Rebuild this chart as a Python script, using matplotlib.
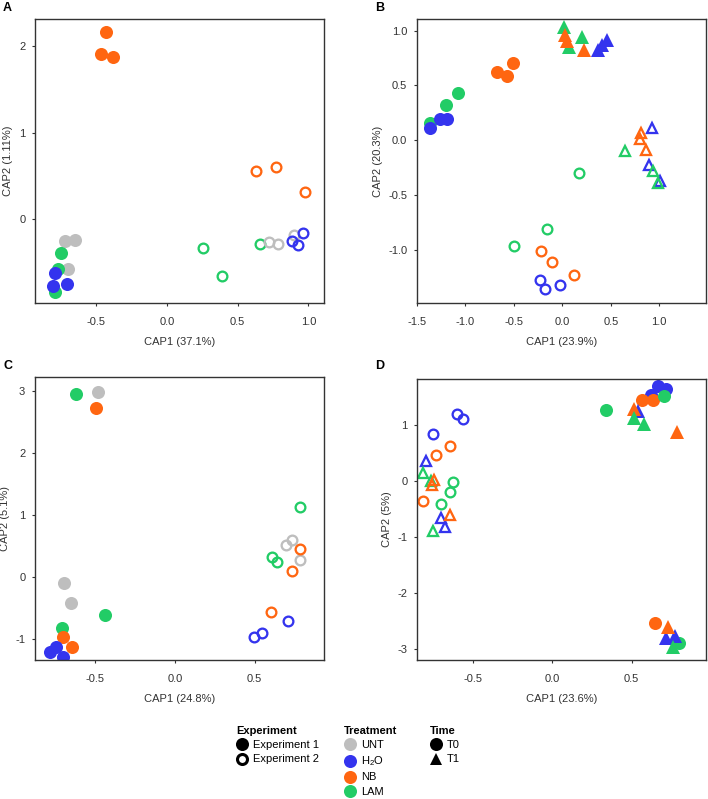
import matplotlib
matplotlib.use('Agg')
import matplotlib.pyplot as plt
from matplotlib.lines import Line2D

plt.rcParams['font.family'] = ['Liberation Sans', 'DejaVu Sans']
plt.rcParams['mathtext.fontset'] = 'custom'
plt.rcParams['mathtext.rm'] = 'Liberation Sans'
plt.rcParams['mathtext.it'] = 'Liberation Sans:italic'

COLORS = {'UNT': '#BEBEBE', 'H2O': '#3434EE', 'NB': '#FF6611', 'LAM': '#22CC66'}

# ---- panel A (no time factor) ----
A_x = [-0.43, -0.467, -0.377, 0.632, 0.773, 0.974, 0.255, 0.387, 0.655,
       0.719, 0.785, 0.896, 0.886, 0.924, 0.962, -0.719, -0.648, -0.695,
       -0.747, -0.766, -0.79, -0.79, -0.80, -0.707]
A_y = [2.16, 1.91, 1.87, 0.558, 0.608, 0.315, -0.335, -0.654, -0.288,
       -0.265, -0.288, -0.18, -0.254, -0.296, -0.162, -0.25, -0.238, -0.577,
       -0.392, -0.577, -0.835, -0.623, -0.769, -0.75]
A_trt = ['NB'] * 3 + ['NB'] * 3 + ['LAM'] * 3 + ['UNT'] * 3 + ['H2O'] * 3 + \
        ['UNT'] * 3 + ['LAM'] * 3 + ['H2O'] * 3
A_exp = [1] * 3 + [2] * 12 + [1] * 9

# ---- panel B ----
B_x = [-1.369, -1.197, -1.076, -1.362, -1.266, -1.19, -0.679, -0.576, -0.507,
       0.017, 0.069, 0.207, 0.024, 0.052, 0.224, 0.372, 0.414, 0.466,
       0.924, 0.897, 1.01, 0.81, 0.803, 0.862, 0.648, 0.931, 0.983,
       0.176, -0.155, -0.497, -0.224, -0.103, 0.121, -0.231, -0.179, -0.024]
B_y = [0.161, 0.319, 0.435, 0.109, 0.19, 0.19, 0.623, 0.587, 0.702,
       1.03, 0.854, 0.945, 0.96, 0.909, 0.824, 0.824, 0.869, 0.915,
       0.109, -0.225, -0.377, 0.064, 0.009, -0.088, -0.103, -0.277, -0.392,
       -0.295, -0.812, -0.964, -1.015, -1.116, -1.228, -1.274, -1.359, -1.319]
B_trt = ['LAM'] * 3 + ['H2O'] * 3 + ['NB'] * 3 + ['LAM'] * 3 + ['NB'] * 3 + ['H2O'] * 3 + \
        ['H2O'] * 3 + ['NB'] * 3 + ['LAM'] * 3 + ['LAM'] * 3 + ['NB'] * 3 + ['H2O'] * 3
B_exp = [1] * 18 + [2] * 18
B_time = ['T0'] * 9 + ['T1'] * 9 + ['T1'] * 9 + ['T0'] * 9

# ---- panel C (no time factor) ----
C_x = [-0.621, -0.439, -0.707, -0.485, -0.695, -0.655, -0.498, -0.705, -0.649,
       -0.785, -0.747, -0.701, 0.785, 0.611, 0.638, 0.697, 0.736, 0.785,
       0.785, 0.732, 0.600, 0.498, 0.548, 0.711]
C_y = [2.957, -0.618, -0.826, 2.995, -0.097, -0.414, 2.726, -0.971, -1.122,
       -1.218, -1.122, -1.294, 1.124, 0.323, 0.242, 0.522, 0.602, 0.269,
       0.452, 0.097, -0.57, -0.968, -0.898, -0.71]
C_trt = ['LAM'] * 3 + ['UNT'] * 3 + ['NB'] * 3 + ['H2O'] * 3 + \
        ['LAM'] * 3 + ['UNT'] * 3 + ['NB'] * 3 + ['H2O'] * 3
C_exp = [1] * 12 + [2] * 12

# ---- panel D ----
D_x = [-0.6, -0.564, -0.754, -0.648, -0.733, -0.815, -0.627, -0.642, -0.699,
       -0.796, -0.701, -0.674, -0.817, -0.764, -0.754, -0.747, -0.76, -0.642,
       0.62, 0.663, 0.716, 0.562, 0.632, 0.646, 0.341, 0.701, 0.80,
       0.537, 0.716, 0.773, 0.516, 0.785, 0.726, 0.512, 0.575, 0.762]
D_y = [1.206, 1.116, 0.848, 0.639, 0.466, -0.352, -0.018, -0.191, -0.406,
       0.37, -0.645, -0.806, 0.149, 0.0, -0.884, 0.03, -0.06, -0.597,
       1.55, 1.713, 1.654, 1.463, 1.463, -2.537, 1.284, 1.534, -2.878,
       1.254, -2.794, -2.764, 1.296, 0.878, -2.597, 1.134, 1.027, -2.955]
D_trt = ['H2O'] * 3 + ['NB'] * 3 + ['LAM'] * 3 + ['H2O'] * 3 + ['LAM'] * 3 + ['NB'] * 3 + \
        ['H2O'] * 3 + ['NB'] * 3 + ['LAM'] * 3 + ['H2O'] * 3 + ['NB'] * 3 + ['LAM'] * 3
D_exp = [2] * 18 + [1] * 18
D_time = ['T0'] * 9 + ['T1'] * 9 + ['T0'] * 9 + ['T1'] * 9

W, H = 708, 799
MS_FILL = 9.4
MS_OPEN = 7.0
LW_OPEN = 1.65


def add_axes(fig, left, top, right, bottom):
    return fig.add_axes([left / W, 1 - bottom / H, (right - left) / W, (bottom - top) / H])


def draw(ax, xs, ys, trts, exps, times=None):
    for i in range(len(xs)):
        c = COLORS[trts[i]]
        m = 'o'
        if times is not None and times[i] == 'T1':
            m = '^'
        if exps[i] == 1:
            ax.plot(xs[i], ys[i], marker=m, ms=MS_FILL, color=c, mec=c, mew=0, ls='none')
        else:
            ax.plot(xs[i], ys[i], marker=m, ms=MS_OPEN, mfc='none', mec=c, mew=LW_OPEN, ls='none')


def style(ax, xlim, ylim, xticks, yticks, xlabels, ylabels, xt, yt):
    ax.set_xlim(xlim)
    ax.set_ylim(ylim)
    ax.set_xticks(xticks)
    ax.set_xticklabels(xlabels)
    ax.set_yticks(yticks)
    ax.set_yticklabels(ylabels)
    ax.tick_params(direction='out', length=2.5, width=0.8, colors='#333333',
                   labelsize=8, labelcolor='#333333')
    ax.tick_params(axis='x', pad=7.5)
    ax.tick_params(axis='y', pad=4.5)
    for s in ax.spines.values():
        s.set_color('#333333')
        s.set_linewidth(1.0)
    ax.set_xlabel(xt, fontsize=8, color='#333333', labelpad=7)
    ax.set_ylabel(yt, fontsize=8, color='#333333', labelpad=4)


fig = plt.figure(figsize=(W / 100, H / 100), dpi=100)

axA = add_axes(fig, 35, 19, 324, 303)
draw(axA, A_x, A_y, A_trt, A_exp)
style(axA, (-0.93, 1.11), (-0.965, 2.31), [-0.5, 0, 0.5, 1.0], [0, 1, 2],
      ['-0.5', '0.0', '0.5', '1.0'], ['0', '1', '2'], 'CAP1 (37.1%)', 'CAP2 (1.11%)')

axB = add_axes(fig, 417, 19, 706, 303)
draw(axB, B_x, B_y, B_trt, B_exp, B_time)
style(axB, (-1.5, 1.483), (-1.486, 1.106), [-1.5, -1.0, -0.5, 0, 0.5, 1.0],
      [-1.0, -0.5, 0, 0.5, 1.0], ['-1.5', '-1.0', '-0.5', '0.0', '0.5', '1.0'],
      ['-1.0', '-0.5', '0.0', '0.5', '1.0'], 'CAP1 (23.9%)', 'CAP2 (20.3%)')

axC = add_axes(fig, 35, 377, 324, 660)
draw(axC, C_x, C_y, C_trt, C_exp)
style(axC, (-0.879, 0.935), (-1.34, 3.23), [-0.5, 0, 0.5], [-1, 0, 1, 2, 3],
      ['-0.5', '0.0', '0.5'], ['-1', '0', '1', '2', '3'], 'CAP1 (24.8%)', 'CAP2 (5.1%)')

axD = add_axes(fig, 417, 379, 706, 660)
draw(axD, D_x, D_y, D_trt, D_exp, D_time)
style(axD, (-0.853, 0.968), (-3.19, 1.83), [-0.5, 0, 0.5], [-3, -2, -1, 0, 1],
      ['-0.5', '0.0', '0.5'], ['-3', '-2', '-1', '0', '1'], 'CAP1 (23.6%)', 'CAP2 (5%)')

for lab, x, y in [('A', 3, 8), ('B', 375, 8), ('C', 3, 366), ('D', 375, 366)]:
    fig.text(x / W, 1 - y / H, lab, fontsize=9, fontweight='bold', va='center', ha='left')

# legends
exp_handles = [Line2D([], [], marker='o', ls='none', color='black', ms=MS_FILL, mew=0),
               Line2D([], [], marker='o', ls='none', mfc='none', mec='black', ms=7.2, mew=2.2)]
trt_labels = ['UNT', 'H$_2$O', 'NB', 'LAM']
trt_handles = [Line2D([], [], marker='o', ls='none', color=COLORS[k], ms=MS_FILL, mew=0)
               for k in ['UNT', 'H2O', 'NB', 'LAM']]
time_handles = [Line2D([], [], marker='o', ls='none', color='black', ms=MS_FILL, mew=0),
                Line2D([], [], marker='^', ls='none', color='black', ms=8.4, mew=0)]

legs = [(exp_handles, ['Experiment 1', 'Experiment 2'], 'Experiment', 236),
        (trt_handles, trt_labels, 'Treatment', 344),
        (time_handles, ['T0', 'T1'], 'Time', 430)]
for hs, ls, title, x in legs:
    lg = fig.legend(hs, ls, title=title, loc='upper left', bbox_to_anchor=(x / W, 1 - 726 / H),
                    frameon=False, fontsize=8, title_fontsize=8, alignment='left',
                    handlelength=1.0, handletextpad=0.55, labelspacing=0.38,
                    borderpad=0, borderaxespad=0)
    lg.get_title().set_fontweight('bold')

fig.savefig('out.png', dpi=100)
